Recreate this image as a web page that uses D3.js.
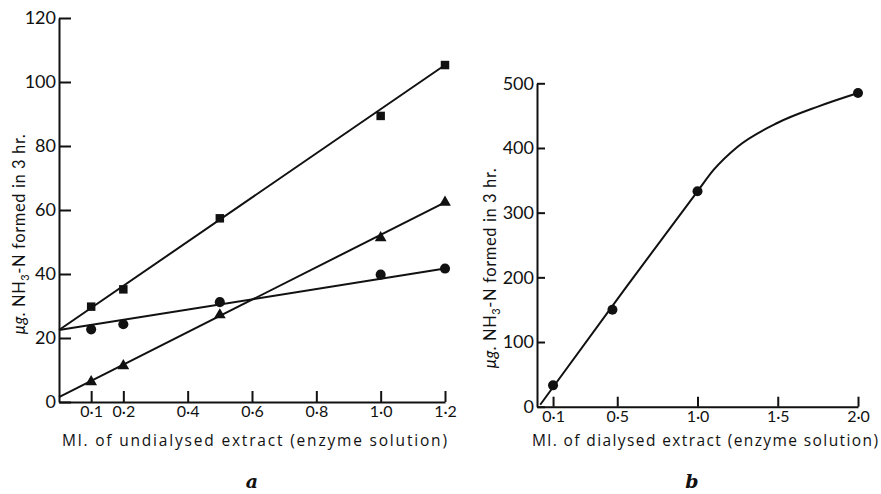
<!DOCTYPE html>
<html>
<head>
<meta charset="utf-8">
<script src="https://cdn.jsdelivr.net/npm/d3@7"></script>
<style>
  body { margin: 0; background: #fff; }
  text { font-family: Lato, "Open Sans", sans-serif; fill: #111; }
</style>
</head>
<body>
<div id="chart"></div>
<script>
// panel a: undialysed extract
const xA = [0.1, 0.2, 0.5, 1.0, 1.2];
const squaresA = [29.8, 35.2, 57.4, 89.4, 105.3];
const circlesA = [22.7, 24.3, 31.2, 39.8, 41.7];
const trianglesA = [6.3, 11.3, 27.2, 51.3, 62.4];
// fitted straight lines, ends [x0, y0, x1, y1]
const lineSquares = [0, 22.5, 1.2, 105.3];
const lineCircles = [0, 22.5, 1.2, 41.7];
const lineTriangles = [0, 1.5, 1.2, 62.4];
const xTicksA = [0.1, 0.2, 0.4, 0.6, 0.8, 1.0, 1.2];
const yTicksA = [0, 20, 40, 60, 80, 100, 120];

// panel b: dialysed extract
const xB = [0.1, 0.47, 1.0, 2.0];
const yB = [33, 150, 333, 485];
// hand drawn curve through the points
const curveBx = [0.02, 0.55, 1.0, 1.1, 1.25, 1.5, 1.75, 2.0];
const curveBy = [3, 183, 333, 366, 402, 439, 464, 485];
const xTicksB = [0.1, 0.5, 1.0, 1.5, 2.0];
const yTicksB = [0, 100, 200, 300, 400, 500];

const width = 881, height = 494;
const fmt = d => d3.format(".1f")(d).replace(".", "·");

const svg = d3.select("#chart").append("svg")
    .attr("width", width)
    .attr("height", height);

function yTitle(g, x, y) {
    const t = g.append("text")
        .attr("transform", `translate(${x},${y}) rotate(-90)`)
        .attr("text-anchor", "middle")
        .attr("font-size", 16.5)
        .attr("letter-spacing", 0.6);
    t.append("tspan").attr("font-style", "italic").text("μg. ");
    t.append("tspan").text("NH");
    t.append("tspan").attr("font-size", 11).attr("dy", 4).text("3");
    t.append("tspan").attr("dy", -4).text("-N formed in 3 hr.");
}

function xTitle(g, x0, x1, label) {
    g.append("text")
        .attr("x", x0).attr("y", 446)
        .style("font-family", "'Open Sans', sans-serif")
        .attr("font-size", 15.5)
        .attr("textLength", x1 - x0)
        .attr("lengthAdjust", "spacing")
        .text(label);
}

function panelLabel(g, x, label) {
    g.append("text")
        .attr("x", x).attr("y", 488)
        .attr("text-anchor", "middle")
        .style("font-family", "'DejaVu Serif', 'Liberation Serif', serif")
        .attr("font-style", "italic").attr("font-weight", "bold")
        .attr("font-size", 19)
        .text(label);
}

function styleAxis(g) {
    g.selectAll("path.domain").attr("stroke", "#111").attr("stroke-width", 2);
    g.selectAll(".tick line").attr("stroke", "#111").attr("stroke-width", 2);
    g.selectAll(".tick text").attr("fill", "#111");
}

// ---------- panel a ----------
const xa = d3.scaleLinear().domain([0, 1.2]).range([59, 445]);
const ya = d3.scaleLinear().domain([0, 120]).range([402, 18]);

const gA = svg.append("g");

gA.append("g")
    .attr("transform", `translate(0,${ya(0)})`)
    .call(d3.axisBottom(xa).tickValues(xTicksA).tickFormat(fmt).tickSizeInner(-11).tickSizeOuter(0).tickPadding(4))
    .attr("font-size", 16)
    .call(styleAxis);

gA.append("g")
    .attr("transform", `translate(${xa(0)},0)`)
    .call(d3.axisLeft(ya).tickValues(yTicksA).tickFormat(d3.format("d")).tickSizeInner(-12).tickSizeOuter(0).tickPadding(3))
    .attr("font-size", 18)
    .call(styleAxis);

[lineSquares, lineCircles, lineTriangles].forEach(l => {
    gA.append("line")
        .attr("x1", xa(l[0])).attr("y1", ya(l[1]))
        .attr("x2", xa(l[2])).attr("y2", ya(l[3]))
        .attr("stroke", "#111").attr("stroke-width", 2);
});

const seriesA = [
    {vals: squaresA, sym: d3.symbolSquare, size: 72},
    {vals: circlesA, sym: d3.symbolCircle, size: 80},
    {vals: trianglesA, sym: d3.symbolTriangle, size: 60}
];
seriesA.forEach(s => {
    gA.append("g").selectAll("path")
        .data(s.vals)
        .join("path")
        .attr("transform", (d, i) => `translate(${xa(xA[i])},${ya(d)})`)
        .attr("d", d3.symbol().type(s.sym).size(s.size))
        .attr("fill", "#111");
});

xTitle(gA, 62, 447, "Ml. of undialysed extract (enzyme solution)");
yTitle(gA, 25, 234);
panelLabel(gA, 252, "a");

// ---------- panel b ----------
const xb = d3.scaleLinear().domain([0, 2]).range([537, 858]);
const yb = d3.scaleLinear().domain([0, 500]).range([406.7, 83.3]);

const gB = svg.append("g");

gB.append("g")
    .attr("transform", `translate(0,${yb(0)})`)
    .call(d3.axisBottom(xb).tickValues(xTicksB).tickFormat(fmt).tickSizeInner(-10).tickSizeOuter(0).tickPadding(4))
    .attr("font-size", 16)
    .call(styleAxis);

gB.append("g")
    .attr("transform", `translate(${xb(0)},0)`)
    .call(d3.axisLeft(yb).tickValues(yTicksB).tickFormat(d3.format("d")).tickSizeInner(-8).tickSizeOuter(0).tickPadding(3))
    .attr("font-size", 18)
    .call(styleAxis);

const curvePts = curveBx.map((x, i) => [x, curveBy[i]]);
gB.append("path")
    .datum(curvePts)
    .attr("fill", "none")
    .attr("stroke", "#111")
    .attr("stroke-width", 2)
    .attr("d", d3.line().x(d => xb(d[0])).y(d => yb(d[1])).curve(d3.curveMonotoneX));

gB.append("g").selectAll("circle")
    .data(yB)
    .join("circle")
    .attr("cx", (d, i) => xb(xB[i]))
    .attr("cy", d => yb(d))
    .attr("r", 5)
    .attr("fill", "#111");

xTitle(gB, 532, 878, "Ml. of dialysed extract (enzyme solution)");
yTitle(gB, 496, 268);
panelLabel(gB, 692, "b");
</script>
</body>
</html>
